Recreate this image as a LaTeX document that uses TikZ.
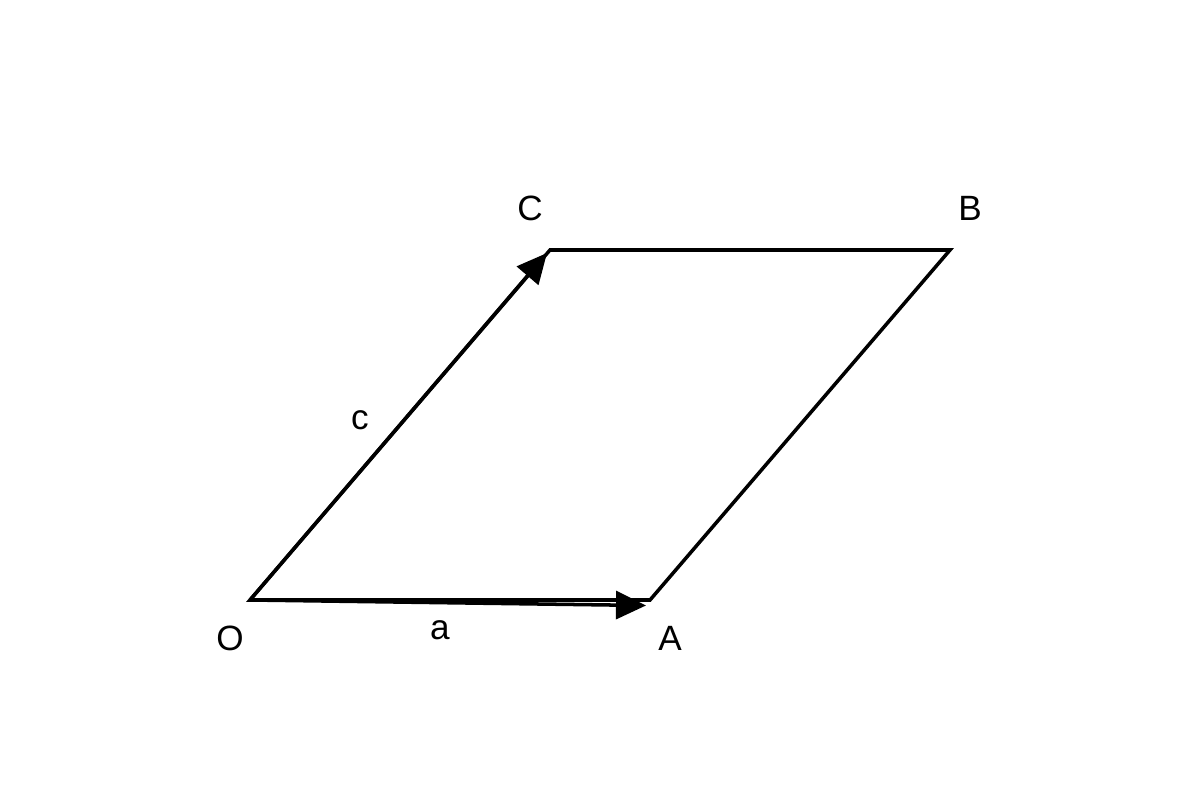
\documentclass[tikz,border=0pt]{standalone}
\usepackage{fontspec}
\setmainfont{Liberation Sans}
\usetikzlibrary{arrows.meta}
\begin{document}
\begin{tikzpicture}[x=0.02cm,y=-0.02cm,
  edge/.style={line width=2pt,line join=miter},
  vec/.style={line width=2pt,-{Triangle[length=0.6cm,width=0.56cm]}},
  lbl/.style={font=\fontsize{20pt}{23pt}\selectfont,inner sep=0pt}]
\useasboundingbox (0,0) rectangle (1200,800);
\coordinate (O) at (250,600);
\coordinate (A) at (650,600);
\coordinate (B) at (950,250);
\coordinate (C) at (550,250);
\coordinate (Ae) at (646,605.5);
\coordinate (Ce) at (547,253);
\draw[edge] (O) -- (A) -- (B) -- (C) -- cycle;
\draw[vec] (O) -- (Ae);
\draw[vec] (O) -- (Ce);
\node[lbl] (lC) at (530,208) {C};
\node[lbl] (lB) at (970,208) {B};
\node[lbl] (lc) at (360,420) {c};
\node[lbl] (lO) at (230,638) {O};
\node[lbl] (la) at (440,630) {a};
\node[lbl] (lA) at (670,638) {A};
\end{tikzpicture}
\end{document}
